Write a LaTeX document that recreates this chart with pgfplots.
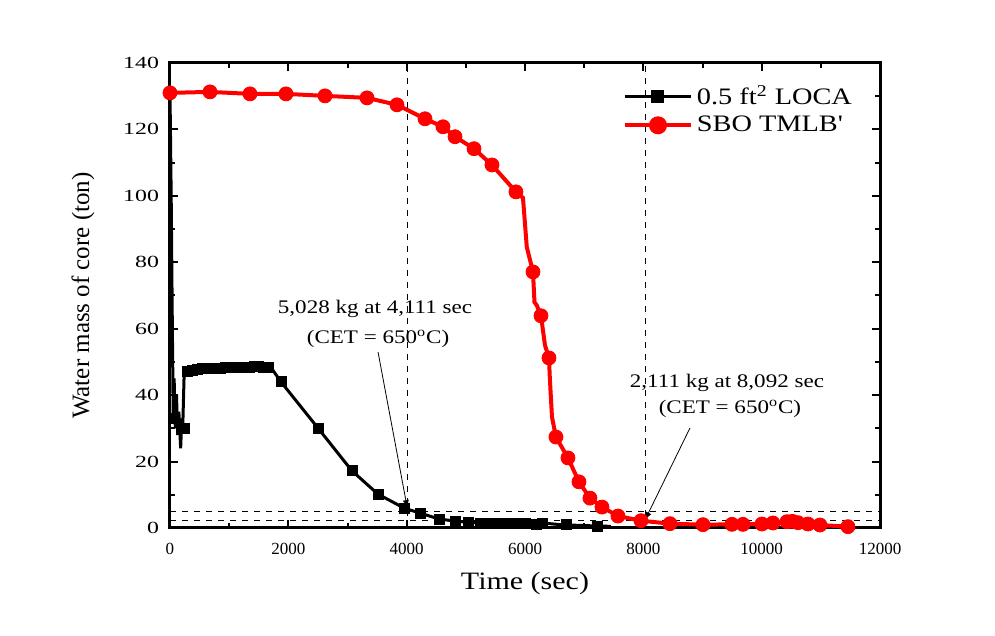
\documentclass[border=0pt]{standalone}
\usepackage{pgfplots}
\pgfplotsset{compat=1.18}
\usepackage{fontspec}
\setmainfont{Liberation Serif}
\newfontfamily\widefont[FakeStretch=1.2]{Liberation Serif}
\newfontfamily\wideyfont[FakeStretch=1.4]{Liberation Serif}
\begin{document}
\begin{tikzpicture}
\useasboundingbox (0,0) rectangle (497.5pt,318pt);
\begin{axis}[
  at={(85pt,54pt)}, anchor=south west,
  scale only axis, width=355pt, height=232.5pt,
  xmin=0, xmax=12000, ymin=0, ymax=140,
  xtick={0,2000,...,12000}, ytick={0,20,...,140},
  minor x tick num=1, minor y tick num=1,
  tick align=inside, tick pos=both,
  major tick length=4pt, minor tick length=2.5pt,
  every tick/.style={black, line width=1pt},
  axis line style={line width=1.5pt},
  scaled x ticks=false,
  /pgf/number format/assume math mode=true,
  /pgf/number format/1000 sep={},
  xticklabel style={font=\fontsize{8.5}{10}\selectfont, yshift=-4pt},
  yticklabel style={font=\wideyfont\fontsize{8.5}{10}\selectfont, xshift=-2pt},
  xlabel={Time (sec)}, ylabel={Water mass of core (ton)},
  xlabel style={font=\widefont\fontsize{12.5}{14}\selectfont, at={(axis description cs:0.5,-0.12)}, anchor=center},
  ylabel style={font=\fontsize{12.5}{14}\selectfont, at={(axis description cs:-0.1225,0.5)}, anchor=center, rotate=0},
  legend style={draw=none, fill=none, at={(0.975,0.97)}, anchor=north east,
    font=\widefont\fontsize{11.8}{13}\selectfont, row sep=0pt},
  legend cell align=left,
  legend image code/.code={\draw[mark repeat=2,mark phase=2,#1] plot coordinates {(0pt,0pt)(16.5pt,0pt)(33pt,0pt)};},
  clip=false,
]
% dashed guide lines
\addplot[black, dashed, line width=0.5pt, forget plot] coordinates {(4020,0) (4020,140)};
\addplot[black, dashed, line width=0.5pt, forget plot] coordinates {(8030,0) (8030,140)};
\addplot[black, dashed, line width=0.5pt, forget plot] coordinates {(0,5.028) (12000,5.028)};
\addplot[black, dashed, line width=0.5pt, forget plot] coordinates {(0,2.111) (12000,2.111)};

% LOCA line
\addplot[black, line width=1.5pt, mark=none, forget plot] coordinates {
(0,131)(20,100)(40,60)(55,33)(70,45)(90,30)(110,40)(130,28)(150,35)(180,24)(200,33)(215,30)(240,47)
(300,47)(400,47.5)(500,48)(700,48)(900,48.2)(1100,48.3)(1300,48.5)(1500,48.6)(1700,48.5)
(1876,44)(2500,30.1)(3076,17.2)(3515,10.2)(3955,6.0)(4225,4.5)(4546,2.7)(4816,2.1)(5050,1.7)
(5240,1.5)(5450,1.4)(5650,1.3)(5850,1.3)(6050,1.3)(6300,1.5)(6600,1.0)(6900,0.8)(7216,0.6)(7450,0.5)
};
\addplot[black, only marks, mark=square*, mark size=2.5pt, forget plot] coordinates {
(60,33)(236,30)(300,47)(380,47.5)(460,47.8)(540,48)(620,48)(700,48)(780,48.2)(860,48.2)(940,48.3)
(1020,48.3)(1100,48.3)(1180,48.4)(1260,48.5)(1340,48.5)(1420,48.6)(1500,48.6)(1580,48.5)(1660,48.5)
(1876,44)(2500,30.1)(3076,17.2)(3515,10.2)(3955,6.0)(4225,4.5)(4546,2.7)(4816,2.1)(5050,1.8)
(5240,1.5)(5400,1.4)(5550,1.3)(5700,1.3)(5850,1.3)(6000,1.3)(6200,1.2)(6300,1.5)(6700,1.0)(7216,0.6)
};

% SBO line
\addplot[red, line width=2pt, mark=none, forget plot] coordinates {
(0,131)(676,131.3)(1352,130.7)(1960,130.7)(2620,130.1)(3330,129.5)(3836,127.4)(4310,123.2)
(4614,120.8)(4817,117.8)(5138,114.2)(5442,109.3)(5847,101.2)(5966,99.4)(6030,84.6)(6135,77.1)
(6160,68)(6200,67)(6270,63.9)(6338,55)(6405,51.2)(6420,45)(6456,33.4)(6523,27.4)(6726,21.1)
(6912,13.9)(7098,9.0)(7301,6.3)(7571,3.6)(7960,2.2)(8450,1.3)(9008,1.0)(9498,1.1)(9684,1.1)
(10005,1.2)(10190,1.5)(10427,1.9)(10520,2.0)(10613,1.6)(10782,1.2)(10985,0.9)(11458,0.4)
};
\addplot[red, only marks, mark=*, mark size=3.5pt, forget plot] coordinates {
(0,131)(676,131.3)(1352,130.7)(1960,130.7)(2620,130.1)(3330,129.5)(3836,127.4)(4310,123.2)
(4614,120.8)(4817,117.8)(5138,114.2)(5442,109.3)(5847,101.2)(6135,77.1)(6270,63.9)(6405,51.2)
(6523,27.4)(6726,21.1)(6912,13.9)(7098,9.0)(7301,6.3)(7571,3.6)(7960,2.2)(8450,1.3)(9008,1.0)
(9498,1.1)(9684,1.1)(10005,1.2)(10190,1.5)(10427,1.9)(10520,2.0)(10613,1.6)(10782,1.2)(10985,0.9)(11458,0.4)
};

\addlegendimage{black, line width=1.5pt, mark=square*, mark size=2.5pt}
\addlegendentry{0.5 ft\textsuperscript{2} LOCA}
\addlegendimage{red, line width=2pt, mark=*, mark size=3.5pt}
\addlegendentry{SBO TMLB'}

% annotations
\node[font=\widefont\fontsize{9.6}{11}\selectfont, anchor=center] at (axis cs:3465,66.0) {5,028 kg at 4,111 sec};
\node[font=\widefont\fontsize{9.6}{11}\selectfont, anchor=center] at (axis cs:3516,57.0) {(CET = 650\textsuperscript{o}C)};
\draw[-latex, line width=0.4pt] (axis cs:3516,53.0) -- (axis cs:4011,6.0);
\node[font=\widefont\fontsize{9.6}{11}\selectfont, anchor=center] at (axis cs:9413,43.7) {2,111 kg at 8,092 sec};
\node[font=\widefont\fontsize{9.6}{11}\selectfont, anchor=center] at (axis cs:9464,35.8) {(CET = 650\textsuperscript{o}C)};
\draw[-latex, line width=0.4pt] (axis cs:8788,30.1) -- (axis cs:8028,2.4);
\end{axis}
\end{tikzpicture}
\end{document}
